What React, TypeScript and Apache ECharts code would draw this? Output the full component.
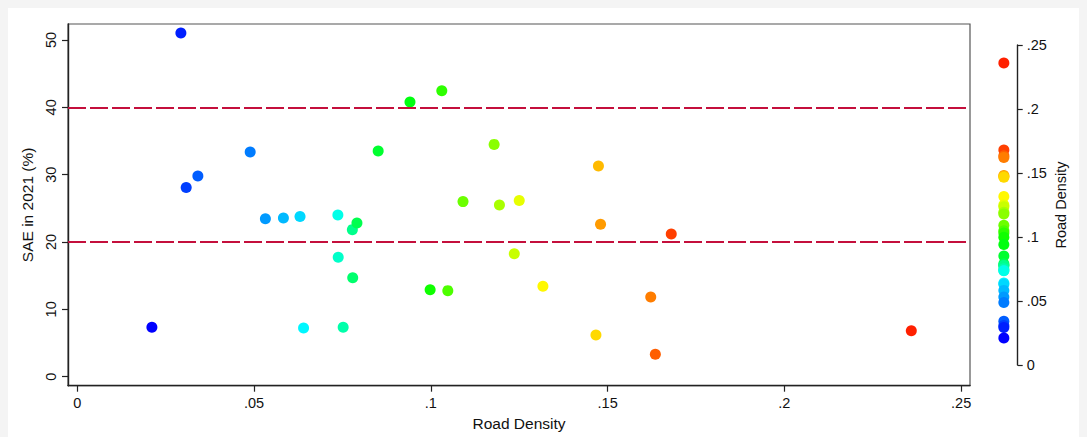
import React, { useEffect, useRef } from "react";
import * as echarts from "echarts";

// Road density (x) and SAE in 2021 (%) (y), sorted by road density
const roadDensity = [
  0.0211, 0.0293, 0.0308, 0.0341, 0.0489, 0.0532, 0.0583, 0.063, 0.064, 0.0737,
  0.0738, 0.0752, 0.0778, 0.0779, 0.0791, 0.0851, 0.0941, 0.0998, 0.1031, 0.1048,
  0.1091, 0.1179, 0.1194, 0.1236, 0.125, 0.1317, 0.1467, 0.1474, 0.148, 0.1622,
  0.1635, 0.168, 0.2359,
];
const sae = [
  7.35, 51.05, 28.1, 29.8, 33.37, 23.47, 23.57, 23.8, 7.23, 24.0,
  17.73, 7.33, 21.84, 14.7, 22.83, 33.52, 40.8, 12.92, 42.48, 12.78,
  26.0, 34.5, 25.5, 18.27, 26.15, 13.42, 6.19, 31.3, 22.63, 11.84,
  3.32, 21.2, 6.83,
];
const xTicks = [0, 0.05, 0.1, 0.15, 0.2, 0.25];
const yTicks = [0, 10, 20, 30, 40, 50];
const legendTicks = [0, 0.05, 0.1, 0.15, 0.2, 0.25];
const refLines = [40, 20];

const FONT = '"Liberation Sans", Arial, Helvetica, sans-serif';

function hsvToHex(h: number): string {
  const f = (n: number) => {
    const k = (n + h / 60) % 6;
    const v = 1 - Math.max(0, Math.min(k, 4 - k, 1));
    return Math.round(v * 255).toString(16).padStart(2, "0");
  };
  return "#" + f(5) + f(3) + f(1);
}

const fmt = (v: number) => (v === 0 ? "0" : String(v).replace(/^0\./, "."));

export default function App() {
  const ref = useRef<HTMLDivElement>(null);
  useEffect(() => {
    document.body.style.backgroundColor = "#f4f4f4";
    if (!ref.current) return;
    const chart = echarts.init(ref.current, undefined, { renderer: "svg" });
    const n = roadDensity.length;
    const colors = roadDensity.map((_, i) => hsvToHex(240 - (i * 232.5) / (n - 1)));
    const textStyle = { color: "#111", fontFamily: FONT, fontSize: 14.5 };
    const axisLineStyle = { color: "#222", width: 1.4 };
    const order = roadDensity.map((_, i) => n - 1 - i);

    chart.setOption({
      animation: false,
      backgroundColor: "#ffffff",
      grid: [
        {
          left: 60,
          right: 117,
          top: 16,
          bottom: 51.3,
          show: true,
          borderColor: "#555",
          borderWidth: 1.2,
          backgroundColor: "transparent",
        },
        { left: 982, right: 69.3, top: 37, bottom: 72 },
      ],
      xAxis: [
        {
          type: "value",
          gridIndex: 0,
          min: -0.00263,
          max: 0.2525,
          splitLine: { show: false },
          axisLine: { show: true, onZero: false, lineStyle: axisLineStyle },
          axisTick: { show: true, length: 6, customValues: xTicks, lineStyle: { color: "#222", width: 1.2 } },
          axisLabel: { customValues: xTicks, formatter: fmt, margin: 10, ...textStyle },
          name: "Road Density",
          nameLocation: "middle",
          nameGap: 25,
          nameTextStyle: { ...textStyle, fontSize: 15.5 },
        },
        { type: "value", gridIndex: 1, min: 0, max: 1, show: false },
      ],
      yAxis: [
        {
          type: "value",
          gridIndex: 0,
          min: -1.34,
          max: 52.38,
          splitLine: { show: false },
          axisLine: { show: true, onZero: false, lineStyle: axisLineStyle },
          axisTick: { show: true, length: 6, customValues: yTicks, lineStyle: { color: "#222", width: 1.2 } },
          axisLabel: { customValues: yTicks, rotate: 90, margin: 10, ...textStyle },
          name: "SAE in 2021 (%)",
          nameLocation: "middle",
          nameRotate: 90,
          nameGap: 23,
          nameTextStyle: { ...textStyle, fontSize: 15.5 },
        },
        {
          type: "value",
          gridIndex: 1,
          position: "right",
          min: 0,
          max: 0.25,
          splitLine: { show: false },
          axisLine: { show: true, onZero: false, lineStyle: axisLineStyle },
          axisTick: { show: true, length: 5, customValues: legendTicks, lineStyle: { color: "#222", width: 1.2 } },
          axisLabel: { customValues: legendTicks, formatter: fmt, margin: 9, ...textStyle },
          name: "Road Density",
          nameLocation: "middle",
          nameRotate: 90,
          nameGap: 36,
          nameTextStyle: { ...textStyle, fontSize: 14.5 },
        },
      ],
      series: [
        {
          type: "scatter",
          xAxisIndex: 0,
          yAxisIndex: 0,
          symbolSize: 11,
          data: roadDensity.map((x, i) => [x, sae[i]]),
          itemStyle: { color: (p: any) => colors[p.dataIndex], opacity: 1 },
          markLine: {
            silent: true,
            symbol: ["none", "none"],
            label: { show: false },
            lineStyle: { color: "#c40f3c", width: 2, type: [18, 4] },
            data: refLines.map((v) => ({ yAxis: v })),
          },
        },
        {
          type: "scatter",
          xAxisIndex: 1,
          yAxisIndex: 1,
          symbolSize: 11,
          data: order.map((i) => [0.5, roadDensity[i]]),
          itemStyle: { color: (p: any) => colors[order[p.dataIndex]], opacity: 1 },
        },
      ],
    });
    return () => chart.dispose();
  }, []);
  return <div ref={ref} style={{ width: 1079, height: 429, background: "#fff" }} />;
}
